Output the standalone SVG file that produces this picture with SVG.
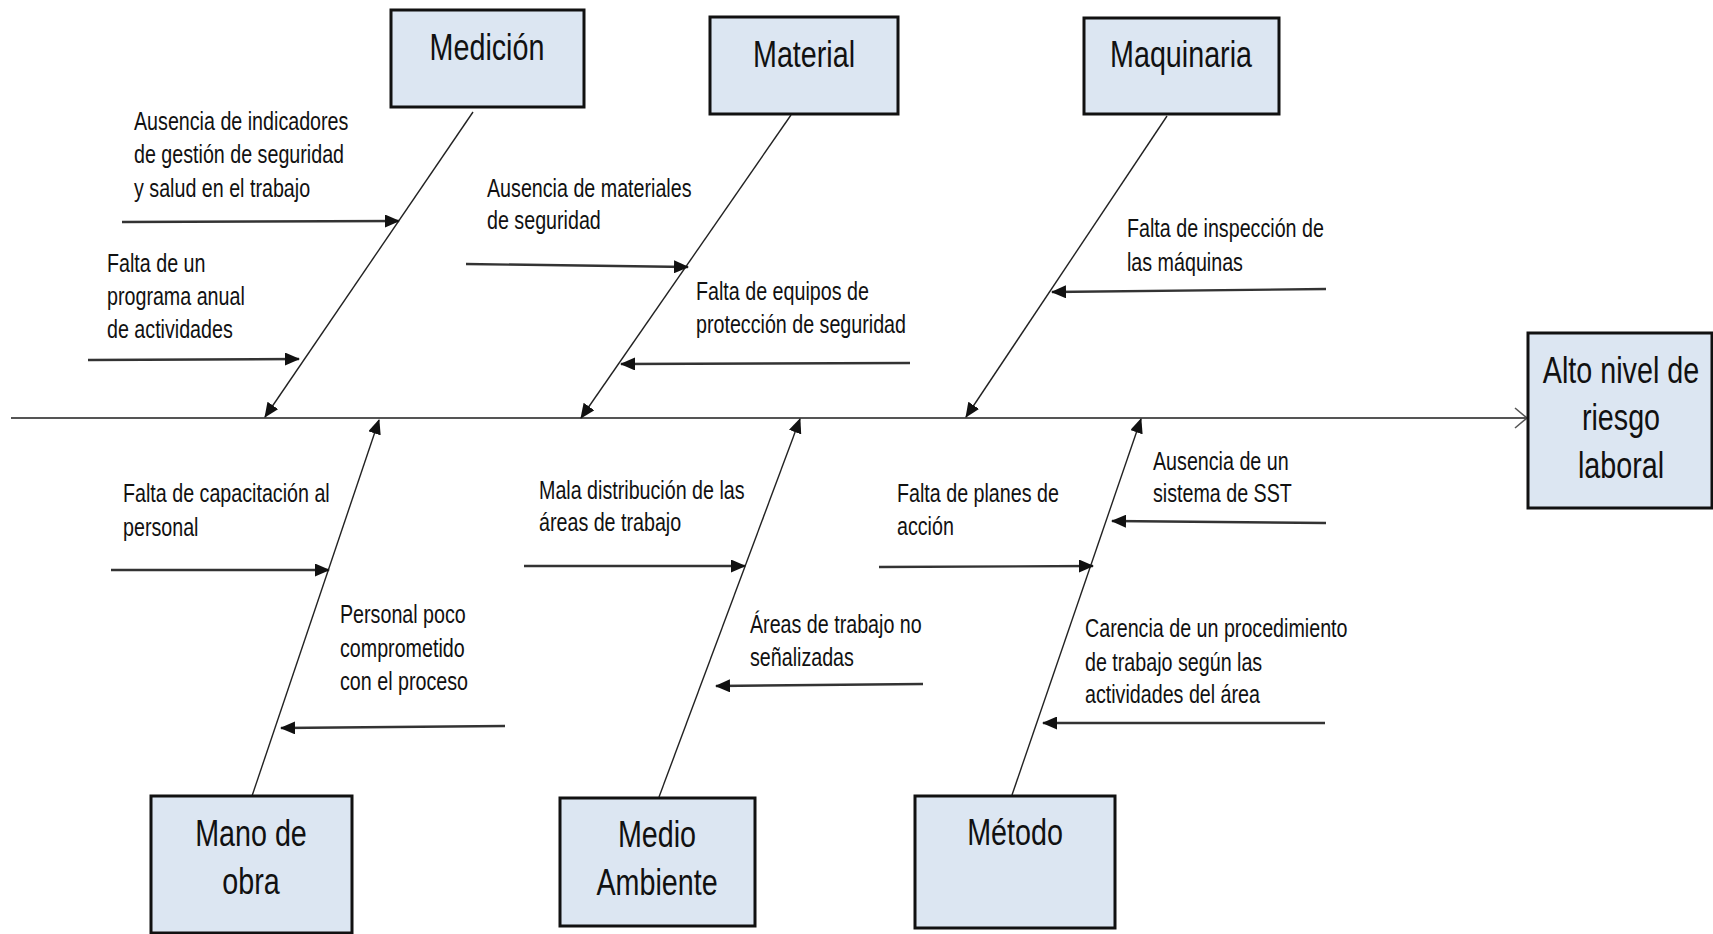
<svg xmlns="http://www.w3.org/2000/svg" width="1713" height="934" viewBox="0 0 1713 934">
<style>
.box{fill:#dce6f2;stroke:#111;stroke-width:3}
.t{font-family:"Liberation Sans",Arial,sans-serif;font-size:35px;fill:#111;text-anchor:middle}
.l{font-family:"Liberation Sans",Arial,sans-serif;font-size:24px;fill:#111}
.bone{stroke:#222;stroke-width:1.4;fill:none;marker-end:url(#ah)}
.sub{stroke:#333;stroke-width:2.4;fill:none;marker-end:url(#ah)}
.spine{stroke:#555;stroke-width:2.2;fill:none;marker-end:url(#open)}
</style>
<defs>
<marker id="ah" markerUnits="userSpaceOnUse" viewBox="0 0 15 13" refX="14" refY="6.5" markerWidth="15" markerHeight="13" orient="auto">
<path d="M0,0 L15,6.5 L0,13 Z" fill="#111"/>
</marker>
<marker id="open" markerUnits="userSpaceOnUse" viewBox="0 0 14 22" refX="13" refY="11" markerWidth="14" markerHeight="22" orient="auto">
<path d="M1,1 L13,11 L1,21" fill="none" stroke="#555" stroke-width="1.6"/>
</marker>
</defs>
<rect width="1713" height="934" fill="#fff"/>
<g id="connectors">
<line class="spine" x1="11" y1="418" x2="1527" y2="418"/>
<line class="bone" x1="473" y1="112" x2="265" y2="417"/>
<line class="bone" x1="791" y1="115" x2="581" y2="418"/>
<line class="bone" x1="1167" y1="116" x2="966" y2="417"/>
<line class="bone" x1="252" y1="796" x2="379" y2="420"/>
<line class="bone" x1="659" y1="797" x2="800" y2="419"/>
<line class="bone" x1="1012" y1="795" x2="1141" y2="419"/>
<line class="sub" x1="122" y1="222" x2="399" y2="221"/>
<line class="sub" x1="88" y1="360" x2="299" y2="359"/>
<line class="sub" x1="466" y1="264" x2="688" y2="267"/>
<line class="sub" x1="910" y1="363" x2="621" y2="364"/>
<line class="sub" x1="1326" y1="289" x2="1052" y2="292"/>
<line class="sub" x1="111" y1="570" x2="329" y2="570"/>
<line class="sub" x1="505" y1="726" x2="281" y2="728"/>
<line class="sub" x1="524" y1="566" x2="745" y2="566"/>
<line class="sub" x1="923" y1="684" x2="716" y2="686"/>
<line class="sub" x1="879" y1="567" x2="1093" y2="566"/>
<line class="sub" x1="1326" y1="523" x2="1112" y2="521"/>
<line class="sub" x1="1325" y1="723" x2="1043" y2="723"/>
</g>
<g id="medicion">
<rect class="box" x="391" y="10" width="193" height="97"/>
<text class="t" transform="translate(487,60) scale(0.82,1.08)">Medición</text>
</g>
<g id="material">
<rect class="box" x="710" y="17" width="188" height="97"/>
<text class="t" transform="translate(804,67) scale(0.82,1.08)">Material</text>
</g>
<g id="maquinaria">
<rect class="box" x="1084" y="18" width="195" height="96"/>
<text class="t" transform="translate(1181,67) scale(0.82,1.08)">Maquinaria</text>
</g>
<g id="mano-de-obra">
<rect class="box" x="151" y="796" width="201" height="137"/>
<text class="t" transform="translate(251,846) scale(0.82,1.08)">Mano de</text>
<text class="t" transform="translate(251,894) scale(0.82,1.08)">obra</text>
</g>
<g id="medio-ambiente">
<rect class="box" x="560" y="798" width="195" height="128"/>
<text class="t" transform="translate(657,847) scale(0.82,1.08)">Medio</text>
<text class="t" transform="translate(657,895) scale(0.82,1.08)">Ambiente</text>
</g>
<g id="metodo">
<rect class="box" x="915" y="796" width="200" height="132"/>
<text class="t" transform="translate(1015,845) scale(0.82,1.08)">Método</text>
</g>
<g id="efecto">
<rect class="box" x="1528" y="333" width="184" height="175"/>
<text class="t" transform="translate(1621,383) scale(0.82,1.08)">Alto nivel de</text>
<text class="t" transform="translate(1621,430) scale(0.82,1.08)">riesgo</text>
<text class="t" transform="translate(1621,478) scale(0.82,1.08)">laboral</text>
</g>
<g id="labels">
<text class="l" transform="translate(134,130) scale(0.82,1.04)">Ausencia de indicadores</text>
<text class="l" transform="translate(134,163) scale(0.82,1.04)">de gestión de seguridad</text>
<text class="l" transform="translate(134,197) scale(0.82,1.04)">y salud en el trabajo</text>
<text class="l" transform="translate(107,272) scale(0.82,1.04)">Falta de un</text>
<text class="l" transform="translate(107,305) scale(0.82,1.04)">programa anual</text>
<text class="l" transform="translate(107,338) scale(0.82,1.04)">de actividades</text>
<text class="l" transform="translate(487,197) scale(0.82,1.04)">Ausencia de materiales</text>
<text class="l" transform="translate(487,229) scale(0.82,1.04)">de seguridad</text>
<text class="l" transform="translate(696,300) scale(0.82,1.04)">Falta de equipos de</text>
<text class="l" transform="translate(696,333) scale(0.82,1.04)">protección de seguridad</text>
<text class="l" transform="translate(1127,237) scale(0.82,1.04)">Falta de inspección de</text>
<text class="l" transform="translate(1127,271) scale(0.82,1.04)">las máquinas</text>
<text class="l" transform="translate(123,502) scale(0.82,1.04)">Falta de capacitación al</text>
<text class="l" transform="translate(123,536) scale(0.82,1.04)">personal</text>
<text class="l" transform="translate(340,623) scale(0.82,1.04)">Personal poco</text>
<text class="l" transform="translate(340,657) scale(0.82,1.04)">comprometido</text>
<text class="l" transform="translate(340,690) scale(0.82,1.04)">con el proceso</text>
<text class="l" transform="translate(539,499) scale(0.82,1.04)">Mala distribución de las</text>
<text class="l" transform="translate(539,531) scale(0.82,1.04)">áreas de trabajo</text>
<text class="l" transform="translate(750,633) scale(0.82,1.04)">Áreas de trabajo no</text>
<text class="l" transform="translate(750,666) scale(0.82,1.04)">señalizadas</text>
<text class="l" transform="translate(897,502) scale(0.82,1.04)">Falta de planes de</text>
<text class="l" transform="translate(897,535) scale(0.82,1.04)">acción</text>
<text class="l" transform="translate(1153,470) scale(0.82,1.04)">Ausencia de un</text>
<text class="l" transform="translate(1153,502) scale(0.82,1.04)">sistema de SST</text>
<text class="l" transform="translate(1085,637) scale(0.82,1.04)">Carencia de un procedimiento</text>
<text class="l" transform="translate(1085,671) scale(0.82,1.04)">de trabajo según las</text>
<text class="l" transform="translate(1085,703) scale(0.82,1.04)">actividades del área</text>
</g>
</svg>
